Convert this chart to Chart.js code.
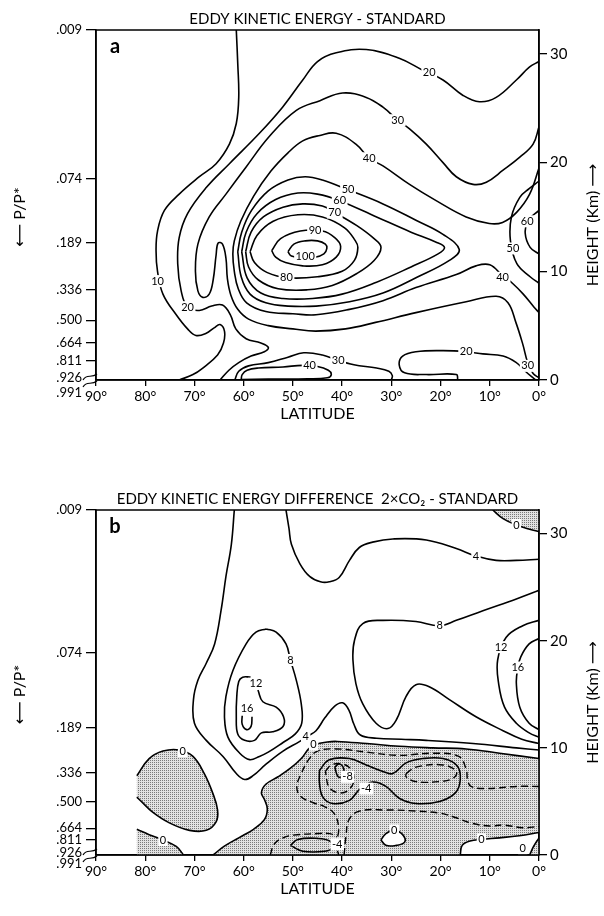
<!DOCTYPE html>
<html>
<head>
<meta charset="utf-8">
<script src="https://cdn.jsdelivr.net/npm/chart.js@4.4.1/dist/chart.umd.min.js"></script>
<style>
  html, body { margin: 0; padding: 0; background: #fff; }
  #wrap { width: 604px; height: 916px; }
  canvas { display: block; }
</style>
</head>
<body>
<div id="wrap">
  <canvas id="chartA" width="604" height="430"></canvas>
  <canvas id="chartB" width="604" height="486"></canvas>
</div>
<script>
// ─── AXES ───
const FONT = 'Lato, "DejaVu Sans", sans-serif';
const H_MAX = 32.2;
const X_TICKS = [0, 10, 20, 30, 40, 50, 60, 70, 80, 90];
const HEIGHT_TICKS = [0, 10, 20, 30];
const P_LABELS = ['.009', '.074', '.189', '.336', '.500', '.664', '.811', '.926'];
const P_KM_A = [32.2, 18.5, 12.6, 8.3, 5.5, 3.4, 1.8, 0.2];
const P_KM_B = [32.2, 18.9, 11.9, 7.7, 5.0, 2.5, 1.4, 0.2];

// ─── PANEL A : eddy kinetic energy, standard  [latitude, height km] ───
const A_10 = [[61.5,32.2],[61.2,29.1],[61.0,26.0],[61.5,23.6],[62.9,21.7],[65.6,19.9],[69.0,18.7],[73.1,17.1],[76.1,15.6],[77.5,13.7],[77.8,11.9],[77.5,10.0],[76.4,7.9],[73.7,6.0],[71.4,4.7],[69.7,4.1],[67.6,4.3],[66.0,4.8],[64.8,5.1],[63.9,4.5],[64.1,3.4],[65.3,2.3],[68.3,1.1],[70.3,0.5],[73.1,0]];
const A_20 = [[0,29.3],[1.9,28.8],[4.6,27.6],[8.7,26.0],[12.1,25.6],[15.5,26.2],[19.5,27.6],[23.6,28.5],[28.4,29.6],[35.1,30.4],[41.2,30.1],[45,29.3],[48,27.6],[52.1,25.1],[56.8,22.7],[62.9,19.9],[67.6,17.7],[71.4,15.3],[73.1,13.1],[73.4,10.7],[72.7,8.2],[71.4,6.7],[69.0,6.4],[66.5,6.8],[64.3,6.9],[62.7,6.0],[61.6,4.7],[59.5,3.8],[56.5,3.4],[55,3.0],[55.8,2.6],[58.5,2.2],[61,1.6],[63,0.9],[64.8,0]];
const A_30 = [[0,23.3],[1.2,21.7],[3.9,20.5],[7.3,19.3],[10.7,18.2],[13.4,18.0],[16.8,18.7],[19.5,20.0],[22.9,21.7],[26.3,23.1],[28.7,23.9],[31.7,25.1],[35.1,26.0],[39.9,26.4],[44.5,25.7],[49.3,24.8],[54.8,22.4],[59.5,19.6],[63.6,17.1],[67.0,15.0],[69.3,12.5],[69.8,10.0],[69.3,8.2],[68.3,7.6],[67.0,7.9],[66.2,9.2],[65.6,11.5],[65.2,12.6],[64.3,12.5],[63.6,11.2],[63.3,9.3],[62.6,7.8],[61.2,6.5],[59.0,5.6],[55,5.0],[50,4.7],[45.4,4.5],[39.3,4.7],[33.2,5.3],[25,6.2],[14.8,7.2],[8.7,7.7],[6.3,7.1],[4.7,5.3],[3.3,3.3],[2.3,1.6],[1.2,0.6],[0,0.2]];
const A_40 = [[0,19.5],[1.9,17.1],[4.6,15.4],[7.4,14.5],[10.1,14.4],[14.8,15.0],[20.9,16.5],[26.3,18.0],[31.7,19.7],[34.5,20.4],[37.2,21.7],[41.2,22.7],[44.5,22.5],[48,22.0],[51,20.9],[54.5,19.2],[58,16.9],[60.6,14.6],[61.9,12.8],[62.2,11.6],[61.9,10.0],[61.1,8.4],[59.4,7.1],[55.5,6.3],[50,6.1],[45.3,6.0],[38.5,6.5],[31.7,7.3],[25,8.5],[16.8,9.7],[12.8,10.5],[10,10.6],[7.4,9.6],[5.4,8.9],[3.2,7.9],[1,6.7],[0,6.2]];
const A_50 = [[61.2,11.8],[60.4,13.6],[58.4,15.6],[55,17.4],[51,18.4],[47.5,18.7],[44,18.4],[38.8,17.5],[31.7,16.2],[25,14.7],[19.5,13.4],[16.2,12.0],[18.2,11.0],[25,9.4],[31.7,8.0],[38.5,7.2],[45.3,6.8],[51,6.8],[55.5,7.1],[58.7,7.9],[60.5,9.5],[61.2,11.8]];
const A_60 = [[60.4,11.8],[59.5,13.6],[57.3,15.3],[53.5,16.6],[49,17.2],[45,17.1],[40.5,16.5],[33,15.0],[26,13.6],[21,12.7],[19.2,12.2],[20.5,11.6],[26,10.4],[33,9.0],[40,7.9],[46,7.5],[52,7.5],[56.5,8.0],[59.3,9.4],[60.4,11.8]];
const A_70 = [[59.6,11.8],[58.5,13.6],[56,15.0],[52,15.9],[48,16.2],[44,16.0],[41.5,15.4],[37,14.2],[33.5,13.0],[32.1,12.2],[33.5,11.0],[37,9.8],[42,8.7],[47,8.3],[53,8.4],[57,9.2],[59,10.4],[59.6,11.8]];
const A_80 = [[58.7,11.8],[57.3,13.3],[54,14.6],[49,15.2],[44,15.0],[39.5,14.0],[37.3,12.8],[36.8,12.2],[37.5,11.0],[40,10.0],[45,9.5],[51,9.4],[55.3,9.9],[57.8,10.8],[58.7,11.8]];
const A_90 = [[54.3,11.9],[52.5,13.0],[48.5,13.7],[44,13.7],[41.5,13.1],[40.3,12.3],[41.2,11.3],[44,10.6],[48,10.5],[51.5,10.8],[53.5,11.3],[54.3,11.9]];
const A_100 = [[51,11.8],[49.8,12.5],[47.5,12.8],[45,12.8],[43.4,12.5],[43.1,12.1],[43.7,11.6],[45.5,11.3],[48.5,11.3],[50.3,11.4],[51,11.8]];
const A_50R = [[0,18.3],[2,17.6],[3.9,16.8],[5.6,15.0],[5.8,12.8],[4.5,10.7],[1.8,9.5],[0,8.9]];
const A_60R = [[0,15.6],[2.2,14.7],[2.8,13.5],[1.8,12.2],[0,11.6]];
const A_30S = [[61.8,0],[61,0.8],[59,1.3],[55,1.6],[51,2.1],[47.8,2.5],[44,2.3],[40.8,1.8],[37.6,1.4],[33,1.1],[30.5,0.8],[29.8,0.4],[30,0]];
const A_40S = [[60.5,0.05],[60.3,0.5],[59.3,0.9],[57,1.1],[52,1.2],[48,1.35],[45,1.25],[42.8,0.9],[42.2,0.5],[43,0.2],[47,0.1],[55,0.08],[60.5,0.05]];
const A_20S = [[16.5,0],[16.8,0.5],[22.9,0.5],[27.3,0.66],[28.4,1.4],[27.7,2.2],[25,2.6],[19.5,2.7],[14.8,2.6],[11.4,2.4],[7.3,2.2],[4.6,1.6],[3,0.9],[1.5,0.3],[0.6,0]];
const A_LABELS = [['20',22.3,28.3],['30',28.7,23.9],['40',34.5,20.4],['50',38.8,17.5],['60',40.5,16.5],['70',41.5,15.4],['90',45.5,13.8],['100',47.5,11.35],['80',51.3,9.4],['10',77.5,9.1],['20',71.4,6.7],['40',46.6,1.3],['30',40.8,1.8],['20',14.8,2.6],['30',2.3,1.3],['40',7.4,9.4],['50',5.3,12.1],['60',2.4,14.6]];

// ─── PANEL B : difference 2xCO2 - standard ───
const B_4L = [[61.9,32.2],[62.5,29.0],[63.6,26.0],[64.6,22.8],[65.9,19.7],[67.6,17.9],[69.3,16.3],[70.2,14.5],[70.0,12.3],[67.6,10.7],[64.2,9.2],[61.5,7.6],[59.8,7.05],[58.1,7.4],[55.4,8.5],[52,9.7],[48.6,10.6],[47,11.1],[45.3,11.6],[43.5,12.8],[41.5,13.9],[39.9,14.2],[38.6,13.5],[37.6,12.2],[36.3,11.2],[33,10.9],[28,10.8],[22.9,10.7],[13.4,10.4],[4.6,10.0],[0,9.8]];
const B_4T = [[51.4,32.2],[50.8,30.5],[50.3,29.0],[48.6,27.2],[46.6,26.0],[44.4,25.5],[42.6,25.5],[40.6,25.9],[38.5,27.5],[36.5,28.7],[33.8,29.2],[29.7,29.5],[22.9,29.4],[16.8,28.6],[12.8,27.9],[8.7,27.5],[4.6,27.5],[0,27.6]];
const B_0TR = [[9.4,32.2],[7.3,31.4],[4.6,30.8],[1.9,30.4],[0,30.2]];
const B_8L = [[55.4,21.1],[53.4,20.8],[51.4,19.7],[50.5,18.2],[49.3,16.3],[48.3,14.1],[48.2,12.3],[49.5,11.3],[52,10.5],[55,9.6],[56.8,9.2],[58.8,8.9],[60.8,9.5],[63.2,11.0],[63.9,12.9],[63.6,14.8],[62.2,17.2],[59.5,19.7],[57.5,20.8],[55.4,21.1]];
const B_12 = [[57.1,15.4],[56.1,14.3],[53.4,13.8],[51.9,12.9],[52.0,12.0],[54.1,11.5],[56.4,11.4],[57.8,10.7],[59.8,10.7],[61.2,11.3],[61.5,12.9],[61.4,14.8],[61.0,16.2],[60.2,16.6],[58.6,16.6]];
const B_16 = [[60.3,13.0],[60.3,12.2],[59.4,11.7],[58.5,12.0],[58.3,12.9]];
const B_8R = [[0,24.7],[4.6,23.9],[11.4,22.8],[16.8,21.9],[20.2,21.4],[25,21.8],[31.7,21.9],[35.8,21.6],[37.5,20.0],[37.8,18.2],[37.2,16.0],[35.8,14.1],[33.1,12.3],[30.7,11.8],[29.0,12.6],[27,14.8],[25,15.9],[22.3,15.7],[18.2,14.5],[12.8,12.9],[7.3,11.6],[3.5,10.8],[0,10.4]];
const B_12R = [[0,21.9],[3.3,21.4],[6.7,20.3],[8.4,18.2],[8.2,16.0],[7.0,13.8],[4.6,12.3],[2.0,11.4],[0,11.0]];
const B_16R = [[0,20.2],[2.0,19.7],[3.7,18.5],[4.3,17.5],[4.6,16.0],[3.9,13.8],[2.0,12.3],[0,11.7]];
const B_0 = [[66.2,0],[64,0.8],[61,1.6],[58,2.4],[55.8,3.3],[55.2,4.3],[55.8,5.2],[56.4,5.8],[55.5,6.6],[53,7.3],[50.5,8.1],[48.3,9.0],[46.8,9.9],[45.5,10.3],[43,10.55],[41,10.6],[35,10.4],[28.4,10.15],[21.6,10.0],[14.8,9.9],[8,9.5],[0,9.0]];
const B_0BR = [[16,0],[15.6,0.9],[14,1.3],[11.7,1.45],[8,1.6],[4,1.8],[0,2.1]];
const B_0C = [[1.9,0],[1.1,0.8],[0,1.6]];
const B_0H = [[32.1,1.4],[31.1,2.0],[29.4,2.3],[27.7,1.9],[27.3,1.2],[29,0.9],[31.1,0.9],[32.1,1.4]];
const B_0BLOB = [[81.7,7.4],[79.2,9.0],[76.4,9.7],[73.1,9.8],[70.3,9.2],[68,7.6],[66.3,5.8],[65.3,4.2],[65.6,3.1],[67.6,2.3],[71,2.3],[75.1,3.0],[78.5,4.0],[80.8,5.0],[81.7,5.4]];
const B_0BL = [[81.7,2.4],[79.2,1.9],[76.4,1.4],[73.7,0.8],[72.2,0]];
const B_N4 = [[44.6,7.9],[42.6,8.9],[38.5,9.0],[35.1,8.4],[31.7,7.8],[29.7,7.6],[27,8.6],[23.6,9.0],[19.5,9.0],[16.6,8.3],[16.0,7.0],[17.0,5.8],[20.2,5.0],[25,4.8],[28.4,5.3],[31.1,6.4],[33.8,6.8],[36.5,6.1],[38.5,5.1],[41.9,4.8],[43.9,5.4],[44.6,6.7],[44.6,7.9]];
const B_N8 = [[41.5,8.2],[40.6,8.5],[39.7,8.1],[39.8,7.4],[40.8,7.3],[41.5,8.2]];
const B_N4S = [[50.5,0.9],[49,1.45],[45,1.55],[42.5,1.3],[42,0.7],[43.5,0.35],[48,0.35],[50.5,0.9]];
const B_DL = [[43.4,7.8],[42.2,8.4],[40,8.5],[38.2,8.0],[37.6,7.0],[38.6,6.1],[40.5,5.8],[42.6,6.3],[43.4,7.8]];
const B_DR = [[27,7.6],[25,8.2],[19.5,8.4],[16.8,7.8],[17.5,7.15],[20.2,6.85],[25,6.85],[27,7.3],[27,7.6]];
const B_DA = [[0,6.4],[4.6,6.4],[11,6.2],[13.8,6.4],[14.5,7.0],[14.8,8.0],[16.3,9.2],[21.6,9.5],[28.4,9.3],[35.1,9.6],[41.2,9.9],[45,9.7],[46.8,8.9],[48.3,7.6],[49.2,6.4],[48.5,5.5],[46,4.9],[43.5,4.5],[41.5,3.8],[40.7,2.4],[41.2,1.0],[40.7,0]];
const B_DB = [[39.6,0],[39.2,1.8],[38.6,3.3],[36.5,4.1],[31,4.2],[25,4.1],[20,3.9],[17,3.5],[14,3.0],[10,2.7],[7.3,2.8],[3.3,2.55],[0,2.65]];
const B_DD = [[54.6,0],[53.8,1.0],[52,1.6],[49.9,1.85],[45,2.0],[42.5,2.0],[41,1.7]];
const B_LABELS = [['0',4.6,30.8],['4',12.8,27.9],['8',20.2,21.4],['12',7.7,19.4],['16',4.3,17.5],['8',50.5,18.2],['12',57.5,16.0],['16',59.3,13.7],['4',47.4,11.1],['0',45.8,10.3],['0',72.4,9.7],['0',76.4,1.4],['-8',38.9,7.3],['-4',35.1,6.2],['0',29.4,2.3],['0',11.7,1.45],['0',3.3,0.6],['-4',41,1.0]];

// ─── helpers ───
const pts = a => a.map(([x, y]) => ({ x, y }));
const line = (a, extra = {}) => ({ data: pts(a), showLine: true, pointRadius: 0, borderColor: '#000', borderWidth: 1.6, tension: 0.4, fill: false, order: 0, ...extra });
const dashed = a => line(a, { borderDash: [7, 4], borderWidth: 1.4 });
const area = (a, bg, order) => ({ data: pts(a), showLine: true, pointRadius: 0, borderWidth: 0, borderColor: 'rgba(0,0,0,0)', backgroundColor: bg, fill: 'shape', tension: 0.4, order });

// fine stipple like the printed screen tone
function stipple() {
  const c = document.createElement('canvas'); c.width = 2; c.height = 2;
  const g = c.getContext('2d');
  g.fillStyle = '#e2e2e2'; g.fillRect(0, 0, 2, 2);
  g.fillStyle = '#7a7a7a'; g.fillRect(0, 0, 1, 1);
  return g.createPattern(c, 'repeat');
}

const decor = {
  id: 'decor',
  afterDraw(chart, args, o) {
    const { ctx, chartArea: a, scales: { x, y } } = chart;
    ctx.save();
    ctx.textAlign = 'center'; ctx.textBaseline = 'middle';
    ctx.font = `11px ${FONT}`;
    o.labels.forEach(([t, lat, km]) => {
      const px = x.getPixelForValue(lat), py = y.getPixelForValue(km);
      const w = ctx.measureText(t).width + 3;
      ctx.fillStyle = '#fff'; ctx.fillRect(px - w / 2, py - 6, w, 12);
      ctx.fillStyle = '#000'; ctx.fillText(t, px, py);
    });
    ctx.strokeStyle = '#000'; ctx.lineWidth = 1.5;
    ctx.strokeRect(a.left, a.top, a.right - a.left, a.bottom - a.top);
    ctx.font = `bold 20px ${FONT}`;
    ctx.fillText(o.letter, a.left + 19, a.top + 17);
    // axis break at the surface level
    ctx.lineWidth = 1.2;
    [-4, 3].forEach(d => {
      ctx.beginPath();
      ctx.moveTo(a.left - 13, a.bottom + d + 4);
      ctx.bezierCurveTo(a.left - 9, a.bottom + d - 3, a.left - 5, a.bottom + d + 3, a.left + 1, a.bottom + d - 2);
      ctx.stroke();
    });
    ctx.textAlign = 'right'; ctx.font = `13px ${FONT}`;
    ctx.fillText('.991', a.left - 14, a.bottom + o.p991);
    ctx.textAlign = 'center'; ctx.font = `16px ${FONT}`;
    const mid = (a.top + a.bottom) / 2;
    ctx.save(); ctx.translate(20, mid + 12); ctx.rotate(-Math.PI / 2);
    ctx.fillText('⟵ P/P*', 0, 0); ctx.restore();
    ctx.save(); ctx.translate(593, mid + 20); ctx.rotate(-Math.PI / 2);
    ctx.fillText('HEIGHT (Km) ⟶', 0, 0); ctx.restore();
    ctx.restore();
  }
};

function makeChart(id, title, pKm, datasets, labels, letter, pad, p991) {
  return new Chart(document.getElementById(id), {
    type: 'scatter',
    data: { datasets },
    plugins: [decor],
    options: {
      responsive: false, animation: false, events: [],
      layout: { padding: pad },
      plugins: {
        legend: { display: false }, tooltip: { enabled: false },
        title: { display: true, text: title, fullSize: false, color: '#000', font: { family: FONT, size: 15, weight: 'normal' }, padding: { top: 10, bottom: 2 } },
        decor: { labels, letter, p991 }
      },
      scales: {
        x: {
          type: 'linear', reverse: true, min: 0, max: 90,
          afterBuildTicks: s => { s.ticks = X_TICKS.map(v => ({ value: v })); },
          afterFit: s => { s.height = 43; },
          ticks: { callback: v => v + '°', color: '#000', font: { family: FONT, size: 14 }, padding: 2, maxRotation: 0, autoSkip: false },
          grid: { drawOnChartArea: false, tickLength: 6, color: '#000', lineWidth: 1.3 },
          border: { color: '#000', width: 1.5 },
          title: { display: true, text: 'LATITUDE', color: '#000', font: { family: FONT, size: 16 }, padding: 0 }
        },
        y: {
          type: 'linear', position: 'left', min: 0, max: H_MAX,
          afterBuildTicks: s => { s.ticks = pKm.map(v => ({ value: v })); },
          afterFit: s => { s.width = 96; },
          ticks: { callback: (v, i) => P_LABELS[i], color: '#000', font: { family: FONT, size: 13 }, padding: 4, autoSkip: false },
          grid: { drawOnChartArea: false, tickLength: 10, lineWidth: 1.3, color: c => (c.tick && c.tick.value < 0.5) ? 'rgba(0,0,0,0)' : '#000' },
          border: { color: '#000', width: 1.5 }
        },
        yh: {
          type: 'linear', position: 'right', min: 0, max: H_MAX,
          afterBuildTicks: s => { s.ticks = HEIGHT_TICKS.map(v => ({ value: v })); },
          afterFit: s => { s.width = 65; },
          ticks: { color: '#000', font: { family: FONT, size: 15 }, padding: 3 },
          grid: { drawOnChartArea: false, tickLength: 8, color: '#000', lineWidth: 1.3 },
          border: { color: '#000', width: 1.5 }
        }
      }
    }
  });
}

// ─── INIT ───
makeChart('chartA', 'EDDY KINETIC ENERGY - STANDARD', P_KM_A,
  [A_10, A_20, A_30, A_40, A_50, A_60, A_70, A_80, A_90, A_100, A_50R, A_60R, A_30S, A_40S, A_20S].map(a => line(a)),
  A_LABELS, 'a', { top: 0, bottom: 7, left: 0, right: 0 }, 13);

const DOTS = stipple();
const SH_MAIN = [...B_0, [-1, 9.0], [-1, 2.1], ...[...B_0BR].reverse(), [16, -1], [66.2, -1]];
const SH_BLOB = [...B_0BLOB];
const SH_BL = [...B_0BL, [72.2, -1], [81.7, -1]];
const SH_TR = [...B_0TR, [-1, 30.2], [-1, 33.5], [9.4, 33.5]];
const SH_CORNER = [...B_0C, [-1, 1.6], [-1, -1], [1.9, -1]];

makeChart('chartB', 'EDDY KINETIC ENERGY DIFFERENCE  2×CO₂ - STANDARD', P_KM_B, [
  area(SH_MAIN, DOTS, 3), area(SH_BLOB, DOTS, 3), area(SH_BL, DOTS, 3), area(SH_TR, DOTS, 3), area(SH_CORNER, DOTS, 3),
  area(B_0H, '#fff', 2),
  ...[B_4L, B_4T, B_0TR, B_8L, B_12, B_16, B_8R, B_12R, B_16R, B_0, B_0BR, B_0C, B_0H, B_0BLOB, B_0BL, B_N4, B_N8, B_N4S].map(a => line(a)),
  ...[B_DL, B_DR, B_DA, B_DB, B_DD].map(dashed)
], B_LABELS, 'b', { top: 50, bottom: 18, left: 0, right: 0 }, 9);
</script>
</body>
</html>
